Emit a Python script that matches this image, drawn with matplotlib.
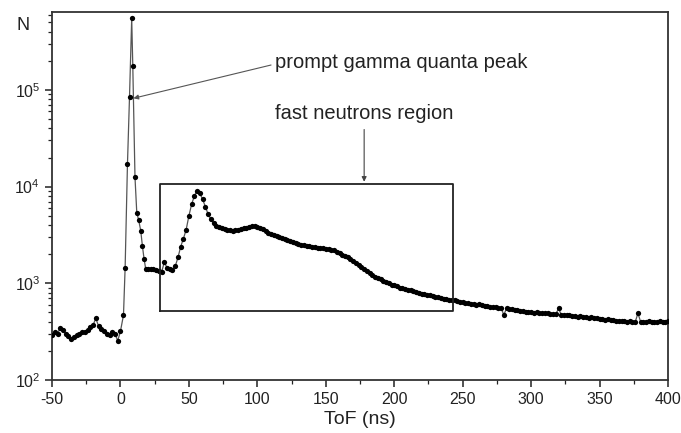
import numpy as np
import matplotlib
matplotlib.use("Agg")
import matplotlib.pyplot as plt
from matplotlib.ticker import FuncFormatter, LogLocator, MultipleLocator

plt.rcParams.update({'font.family': ['Liberation Sans', 'DejaVu Sans'],
                     'mathtext.default': 'regular',
                     'axes.unicode_minus': False})

# background before the gamma flash (2 ns bins)
tof_pre = np.arange(-50, 1, 2)
counts_pre = [290, 310, 300, 345, 330, 300, 285, 265, 280, 290,
              300, 315, 310, 330, 350, 370, 435, 360, 340, 320,
              300, 290, 310, 300, 255, 320]

# prompt gamma peak (read point by point)
tof_peak = [2.2, 3.4, 5.1, 6.6, 8.2, 9.0, 10.6, 11.9, 13.3, 14.8, 16.0, 17.2, 18.4]
counts_peak = [470, 1450, 17000, 85000, 550000, 175000, 12500, 5400, 4500,
               3500, 2450, 1800, 1420]

# neutron part and tail (2 ns bins, 20..400 ns)
tof_tail = np.arange(20, 401, 2)
counts_tail = [
    1420, 1400, 1400, 1380, 1330,   # 20
    1300, 1650, 1450, 1400, 1370,   # 30
    1500, 1850, 2400, 2900, 3600,   # 40
    5000, 6600, 8000, 9100, 8500,   # 50
    7400, 6200, 5200, 4600, 4200,   # 60
    3950, 3800, 3700, 3650, 3600,   # 70
    3550, 3500, 3520, 3580, 3620,   # 80
    3700, 3760, 3820, 3880, 3920,   # 90
    3850, 3750, 3620, 3480, 3350,   # 100
    3250, 3150, 3080, 3000, 2920,   # 110
    2850, 2780, 2720, 2660, 2600,   # 120
    2560, 2520, 2480, 2440, 2410,   # 130
    2380, 2360, 2340, 2320, 2300,   # 140
    2280, 2260, 2230, 2190, 2120,   # 150
    2050, 1980, 1910, 1850, 1780,   # 160
    1700, 1620, 1540, 1460, 1390,   # 170
    1330, 1270, 1220, 1170, 1130,   # 180
    1100, 1060, 1030, 1000, 970,    # 190
    950, 930, 905, 890, 870,        # 200
    860, 845, 830, 810, 795,        # 210
    780, 770, 755, 750, 735,        # 220
    730, 715, 710, 695, 690,        # 230
    680, 665, 665, 650, 645,        # 240
    640, 630, 625, 615, 612,        # 250
    600, 605, 590, 588, 578,        # 260
    575, 568, 570, 560, 562,        # 270
    470, 550, 542, 545, 530,        # 280
    528, 518, 520, 508, 505,        # 290
    505, 498, 500, 490, 495,        # 300
    488, 490, 480, 485, 478,        # 310
    550, 472, 470, 465, 468,        # 320
    460, 462, 452, 455, 448,        # 330
    450, 442, 445, 436, 440,        # 340
    432, 430, 422, 425, 415,        # 350
    418, 410, 412, 404, 408,        # 360
    400, 404, 396, 398, 490,        # 370
    398, 402, 395, 404, 398,        # 380
    402, 394, 404, 396, 400,        # 390
    405,                            # 400
]

tof = np.concatenate([tof_pre, tof_peak, tof_tail])
counts = np.concatenate([counts_pre, counts_peak, counts_tail])

# annotation box (fast neutrons region)
box_x = (29, 243)
box_y = (515, 10700)

ink = '#222222'

fig = plt.figure(figsize=(6.81, 4.33), dpi=100)
ax = fig.add_axes([0.0764, 0.1224, 0.9046, 0.8499])

ax.plot(tof, counts, '-', color='#555555', lw=0.9, zorder=2)
ax.plot(tof, counts, 'o', color='black', ms=3.8, mew=0, zorder=3)

ax.set_yscale('log')
ax.set_xlim(-50, 400)
ax.set_ylim(100, 6.4e5)

ax.xaxis.set_major_locator(MultipleLocator(50))
ax.xaxis.set_minor_locator(MultipleLocator(25))
ax.yaxis.set_major_locator(LogLocator(base=10, numticks=10))
ax.yaxis.set_minor_locator(LogLocator(base=10, subs=np.arange(2, 10), numticks=10))
ax.yaxis.set_major_formatter(FuncFormatter(lambda v, p: r'$10^{%d}$' % round(np.log10(v))))

ax.tick_params(which='major', direction='out', length=5, width=1.1, colors=ink,
               labelsize=11.5, top=False, right=False)
ax.tick_params(which='minor', direction='out', length=3, width=0.9, colors=ink,
               top=False, right=False)
for s in ax.spines.values():
    s.set_color('#333333')
    s.set_linewidth(1.3)

ax.set_xlabel('ToF (ns)', fontsize=14, color=ink, labelpad=3)
fig.text(0.034, 0.942, 'N', fontsize=13, color=ink, ha='center', va='center')

# fast neutrons box
ax.plot([box_x[0], box_x[1], box_x[1], box_x[0], box_x[0]],
        [box_y[0], box_y[0], box_y[1], box_y[1], box_y[0]],
        color='#222222', lw=1.3, zorder=4)

ax.annotate('prompt gamma quanta peak', xy=(9.5, 82000), xytext=(113, 194000),
            fontsize=14.5, color=ink, va='center', ha='left',
            arrowprops=dict(arrowstyle='-|>', color='#555555', lw=0.8,
                            mutation_scale=7, shrinkA=1, shrinkB=0,
                            relpos=(0, 0.4)))
ax.annotate('fast neutrons region', xy=(178, box_y[1]), xytext=(113, 57700),
            fontsize=14.5, color=ink, va='center', ha='left')
ax.annotate('', xy=(178, box_y[1] * 1.05), xytext=(178, 39000),
            arrowprops=dict(arrowstyle='-|>', color='#444444', lw=0.8,
                            mutation_scale=7, shrinkA=0, shrinkB=0))

fig.savefig('out.png', dpi=100)
